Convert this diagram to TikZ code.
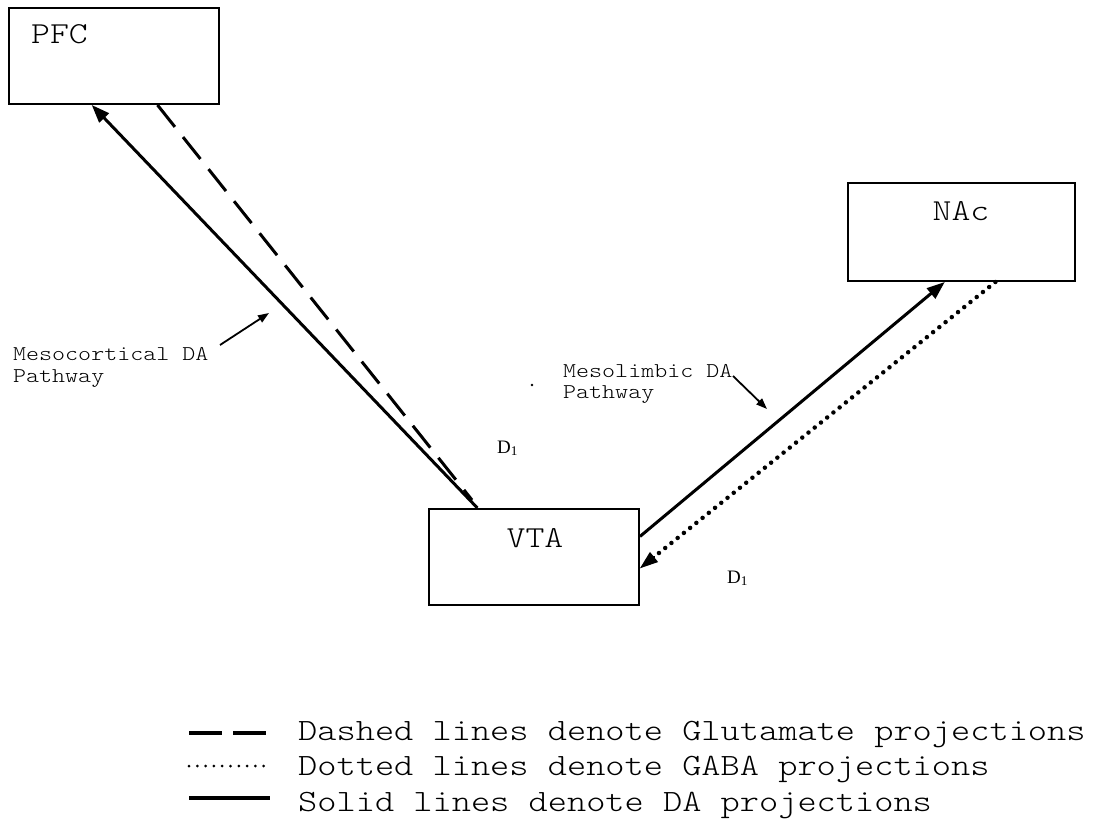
\documentclass[tikz,border=0pt]{standalone}
\usepackage{fontspec}
\newfontfamily\serifd{Liberation Serif}
\newfontfamily\courlike{lmmonolt10-regular.otf}[FakeStretch=1.18]
\usetikzlibrary{arrows.meta,calc}
\tikzset{
  region/.style={draw=black, line width=2pt, inner sep=0pt, fill=white},
  regionlabel/.style={font=\courlike\fontsize{30.5}{30}\selectfont, inner sep=0pt, anchor=base},
  pathlabel/.style={font=\courlike\fontsize{21}{21}\selectfont, inner sep=0pt, anchor=base west},
  legendtext/.style={font=\courlike\fontsize{31}{31}\selectfont, inner sep=0pt, anchor=base west},
  dlabel/.style={font=\serifd\fontsize{19}{19}\selectfont, inner sep=0pt, anchor=base west},
  tip/.style={-{Triangle[length=18pt,width=13pt]}},
  smalltip/.style={-{Triangle[length=11pt,width=8pt]}},
  solidline/.style={line width=3pt},
  dashedline/.style={line width=3pt, dash pattern=on 28pt off 13pt},
  dottedline/.style={line width=4.5pt, line cap=round, dash pattern=on 0pt off 8pt},
}
\begin{document}
\begin{tikzpicture}[x=1pt,y=-1pt]
\useasboundingbox[fill=white] (0,0) rectangle (1097,821);

% boxes
\node[region, minimum width=210pt, minimum height=96pt] (pfc) at (114,56) {};
\node[region, minimum width=227pt, minimum height=98pt] (nac) at (961.5,232) {};
\node[region, minimum width=210pt, minimum height=96pt] (vta) at (534,557) {};

\node[regionlabel, anchor=base west] (pfct) at (31,44) {PFC};
\node[regionlabel] (nact) at (961,221) {NAc};
\node[regionlabel] (vtat) at (535,547) {VTA};

% anchor coordinates
\coordinate (pfcIn) at ($(pfc.south west)!0.395!(pfc.south east)$);
\coordinate (pfcOut) at ($(pfc.south west)!0.705!(pfc.south east)$);
\coordinate (vtaTop) at ($(vta.north west)!0.233!(vta.north east)$);
\coordinate (vtaDash) at ($(vta.north west)+(44,-8)$);
\coordinate (vtaRight) at ($(vta.north east)!0.29!(vta.south east)$);
\coordinate (vtaIn) at ($(vta.north east)!0.615!(vta.south east)$);
\coordinate (nacIn) at ($(nac.south west)!0.427!(nac.south east)$);
\coordinate (nacOut) at ($(nac.south west)!0.648!(nac.south east)$);

% projections
\draw[solidline, tip] (vtaTop) -- (pfcIn);
\draw[dashedline] (pfcOut) -- (vtaDash);
\draw[solidline, tip] (vtaRight) -- (nacIn);
\draw[dottedline] (nacOut) -- ($(vtaIn)!14pt!(nacOut)$);
\draw[line width=0pt, tip] ($(vtaIn)!16pt!(nacOut)$) -- (vtaIn);

% pathway labels
\node[pathlabel] (meso1) at (13,360) {Mesocortical DA};
\node[pathlabel] (meso2) at (13,382) {Pathway};
\coordinate (mesoTip) at (269,313);
\coordinate (mesoStart) at (220,345);
\draw[line width=1.8pt, smalltip] (mesoStart) -- (mesoTip);
\node[pathlabel] (limb1) at (563,377) {Mesolimbic DA};
\node[pathlabel] (limb2) at (563,398) {Pathway};
\coordinate (limbTip) at (767,409);
\coordinate (limbStart) at (733,376);
\draw[line width=1.8pt, smalltip] (limbStart) -- (limbTip);

\node[dlabel] (d1a) at (497,453) {D\textsubscript{1}};
\node[dlabel] (d1b) at (727,583) {D\textsubscript{1}};
\fill (532,385) circle (1.3pt);

% legend
\coordinate (l1a) at (189,733);
\coordinate (l1b) at (267,733);
\draw[line width=3.5pt, dash pattern=on 33pt off 11pt] (l1a) -- (l1b);
\coordinate (l2a) at (189,766);
\coordinate (l2b) at (265,766);
\draw[line width=3pt, line cap=round, dash pattern=on 0pt off 8.3pt] (l2a) -- (l2b);
\coordinate (l3a) at (189,798);
\coordinate (l3b) at (270,798);
\draw[line width=3.5pt] (l3a) -- (l3b);

\node[legendtext] (lt1) at (298,740) {Dashed lines denote Glutamate projections};
\node[legendtext] (lt2) at (298,775) {Dotted lines denote GABA projections};
\node[legendtext] (lt3) at (298,811) {Solid lines denote DA projections};
\end{tikzpicture}
\end{document}
